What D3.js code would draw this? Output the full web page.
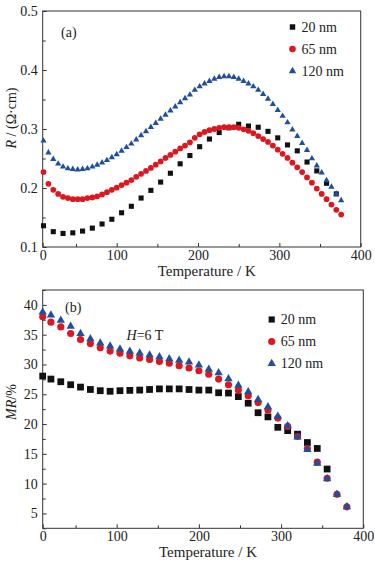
<!DOCTYPE html>
<html>
<head>
<meta charset="utf-8">
<script src="https://cdn.jsdelivr.net/npm/d3@7"></script>
<style>
  body { margin: 0; background: #fff; }
  svg { display: block; }
  text { font-family: "Liberation Serif", "Times New Roman", serif; fill: #222; }
</style>
</head>
<body>
<div id="chart"></div>
<script>
// ---- panel (a): resistivity vs temperature ----
var tempA_fine = [10,16,22,28,34,40,46,52,58,64,70,76,82,88,94,100,106,112,118,124,130,136,142,148,154,160,166,172,178,184,190,196,202,208,214,220,226,232,238,244,250,256,262,268,274,280,286,292,298,304,310,316,322,328,334,340,346,352,358,364,370,376];
var tempA_20 = [10,22,34,46,58,70,82,94,106,118,130,142,154,166,178,190,202,214,226,238,250,262,274,286,298,310,322,334,346,358,370];

var resA_20 = [0.136,0.126,0.123,0.124,0.127,0.132,0.139,0.147,0.158,0.169,0.183,0.196,0.210,0.225,0.241,0.255,0.270,0.283,0.294,0.302,0.308,0.305,0.303,0.296,0.285,0.273,0.263,0.244,0.229,0.208,0.190];
var resA_65 = [0.227,0.207,0.197,0.190,0.185,0.183,0.181,0.181,0.181,0.183,0.184,0.186,0.189,0.193,0.197,0.2005,0.205,0.209,0.2135,0.219,0.224,0.229,0.234,0.2395,0.245,0.251,0.256,0.2615,0.267,0.272,0.2775,0.285,0.291,0.295,0.298,0.300,0.302,0.303,0.303,0.303,0.302,0.2995,0.297,0.293,0.288,0.283,0.278,0.272,0.265,0.258,0.251,0.243,0.235,0.227,0.218,0.209,0.199,0.190,0.181,0.172,0.163,0.155];
var resA_120 = [0.280,0.260,0.249,0.241,0.236,0.233,0.232,0.231,0.232,0.233,0.236,0.239,0.243,0.247,0.252,0.257,0.263,0.269,0.275,0.282,0.289,0.296,0.303,0.310,0.317,0.324,0.331,0.338,0.345,0.352,0.358,0.366,0.372,0.377,0.381,0.385,0.388,0.389,0.389,0.388,0.385,0.381,0.377,0.372,0.366,0.359,0.351,0.342,0.332,0.322,0.311,0.299,0.288,0.276,0.264,0.250,0.238,0.226,0.213,0.202,0.190,0.179];

// ---- panel (b): magnetoresistance vs temperature ----
var tempB = [10,20,32,44,56,68,80,92,104,116,128,140,152,164,176,188,200,212,224,236,248,260,272,284,296,308,320,332,344,356,368,380];
var mrB_20 = [28.05,27.55,27.1,26.6,26.2,25.8,25.6,25.5,25.6,25.65,25.7,25.8,25.9,25.9,25.9,25.8,25.7,25.7,25.25,25.2,24.6,23.5,21.9,21.2,19.45,18.9,18.3,16.9,15.9,12.45];
var mrB_65 = [38.0,37.1,36.3,35.2,34.2,33.5,32.8,32.25,31.9,31.45,31.1,30.85,30.5,30.2,29.8,29.4,28.95,28.35,27.55,26.6,25.7,24.75,23.6,22.35,21.0,19.6,17.9,15.9,13.6,10.9,8.2,6.1];
var mrB_120 = [38.8,38.3,37.4,36.4,35.2,34.3,33.6,33.1,32.6,32.2,31.9,31.6,31.3,30.95,30.7,30.4,29.9,29.2,28.6,27.6,26.5,25.4,24.1,22.9,21.3,19.7,17.8,15.7,13.4,10.8,8.2,6.1];

var seriesNames = ["20 nm", "65 nm", "120 nm"];
var seriesColors = ["#111111", "#e0161e", "#1f4f9e"];
var seriesShapes = [d3.symbolSquare, d3.symbolCircle, d3.symbolTriangle];

var xTicksMajor = [100, 200, 300, 400];
var xTicksMinor = [50, 150, 250, 350];
var yTicksA = [0.1, 0.2, 0.3, 0.4, 0.5];
var yTicksAMinor = [0.15, 0.25, 0.35, 0.45];
var yTicksB = [5, 10, 15, 20, 25, 30, 35, 40];
var yTicksBMinor = [2.5, 7.5, 12.5, 17.5, 22.5, 27.5, 32.5, 37.5, 42.5];

var w = 375, h = 564;

var svg = d3.select("#chart").append("svg")
    .attr("width", w)
    .attr("height", h);

svg.append("rect").attr("width", w).attr("height", h).attr("fill", "#fff");

function zip(xs, ys) {
  return ys.map(function(v, i) { return { t: xs[i], v: v }; });
}

function drawPanel(opt) {
  var x = d3.scaleLinear().domain(opt.xDomain).range([opt.left, opt.right]);
  var y = d3.scaleLinear().domain(opt.yDomain).range([opt.bottom, opt.top]);
  var g = svg.append("g");

  // x axis, ticks pointing inward; the left edge is labelled "0"
  var xMajor = d3.axisBottom(x)
      .tickValues([opt.xDomain[0]].concat(xTicksMajor))
      .tickSizeInner(-4).tickSizeOuter(0).tickPadding(3)
      .tickFormat(function(d) { return d === opt.xDomain[0] ? "0" : d; });
  var gx = g.append("g").attr("transform", "translate(0," + opt.bottom + ")").call(xMajor);
  var xMinor = d3.axisBottom(x).tickValues(xTicksMinor).tickSizeInner(-3).tickSizeOuter(0).tickFormat("");
  var gx2 = g.append("g").attr("transform", "translate(0," + opt.bottom + ")").call(xMinor);

  var yMajor = d3.axisLeft(y).tickValues(opt.yTicks)
      .tickSizeInner(-4).tickSizeOuter(0).tickPadding(5)
      .tickFormat(opt.yFormat);
  var gy = g.append("g").attr("transform", "translate(" + opt.left + ",0)").call(yMajor);
  var yMinor = d3.axisLeft(y).tickValues(opt.yMinor).tickSizeInner(-3).tickSizeOuter(0).tickFormat("");
  var gy2 = g.append("g").attr("transform", "translate(" + opt.left + ",0)").call(yMinor);

  [gx, gx2, gy, gy2].forEach(function(a) {
    a.select(".domain").remove();
    a.selectAll("line").attr("stroke", "#333");
    a.selectAll("text")
      .style("font-family", '"Liberation Serif", serif')
      .style("font-size", "14px")
      .attr("fill", "#222");
  });

  // frame
  g.append("rect")
      .attr("x", opt.left).attr("y", opt.top)
      .attr("width", opt.right - opt.left).attr("height", opt.bottom - opt.top)
      .attr("fill", "none").attr("stroke", "#333").attr("stroke-width", 1);

  // markers
  opt.series.forEach(function(s, i) {
    var sym = d3.symbol().type(seriesShapes[i]).size(opt.sizes[i]);
    g.append("g").selectAll("path")
      .data(s)
      .enter().append("path")
      .attr("d", sym)
      .attr("transform", function(d) { return "translate(" + x(d.t) + "," + y(d.v) + ")"; })
      .attr("fill", seriesColors[i]);
  });

  // legend
  seriesNames.forEach(function(name, i) {
    var ly = opt.legendY + i * opt.legendGap;
    g.append("path")
      .attr("d", d3.symbol().type(seriesShapes[i]).size(opt.legendSizes[i]))
      .attr("transform", "translate(" + opt.legendX + "," + ly + ")")
      .attr("fill", seriesColors[i]);
    g.append("text")
      .attr("x", opt.legendX + 9).attr("y", ly)
      .attr("dy", "0.35em")
      .style("font-size", "14px")
      .text(name);
  });

  // x title
  g.append("text")
      .attr("x", (opt.left + opt.right) / 2 + 5).attr("y", opt.bottom + 28.5)
      .attr("text-anchor", "middle")
      .style("font-size", "15px")
      .text("Temperature / K");

  // panel tag
  g.append("text")
      .attr("x", opt.tagX).attr("y", opt.tagY)
      .style("font-size", "14px")
      .text(opt.tag);

  return { x: x, y: y, g: g };
}

var pa = drawPanel({
  xDomain: [9, 400], yDomain: [0.1, 0.5],
  left: 42.7, right: 360.7, top: 11, bottom: 247,
  yTicks: yTicksA, yMinor: yTicksAMinor, yFormat: d3.format(".1f"),
  series: [zip(tempA_20, resA_20), zip(tempA_fine, resA_65), zip(tempA_fine, resA_120)],
  sizes: [26, 26, 17],
  legendX: 292.5, legendY: 27, legendGap: 22, legendSizes: [30, 34, 24],
  tag: "(a)", tagX: 61, tagY: 37
});

var pb = drawPanel({
  xDomain: [10, 400], yDomain: [2.5, 42.5],
  left: 42.7, right: 363.3, top: 290, bottom: 528.3,
  yTicks: yTicksB, yMinor: yTicksBMinor, yFormat: d3.format("d"),
  series: [zip(tempB, mrB_20), zip(tempB, mrB_65), zip(tempB, mrB_120)],
  sizes: [46, 40, 30],
  legendX: 271.7, legendY: 319.5, legendGap: 22, legendSizes: [38, 40, 30],
  tag: "(b)", tagX: 65, tagY: 312
});

// y titles
var ta = svg.append("text")
    .attr("transform", "translate(16,118) rotate(-90)")
    .attr("text-anchor", "middle")
    .style("font-size", "14px");
ta.append("tspan").style("font-style", "italic").text("R");
ta.append("tspan").text(" / (\u03A9\u00B7cm)");

var tb = svg.append("text")
    .attr("transform", "translate(16,402) rotate(-90)")
    .attr("text-anchor", "middle")
    .style("font-size", "14px");
tb.append("tspan").style("font-style", "italic").text("MR");
tb.append("tspan").text("/%");

// field annotation in panel (b)
var hb = svg.append("text")
    .attr("x", 126.5).attr("y", 340)
    .style("font-size", "14px");
hb.append("tspan").style("font-style", "italic").text("H");
hb.append("tspan").text("=6 T");
</script>
</body>
</html>
